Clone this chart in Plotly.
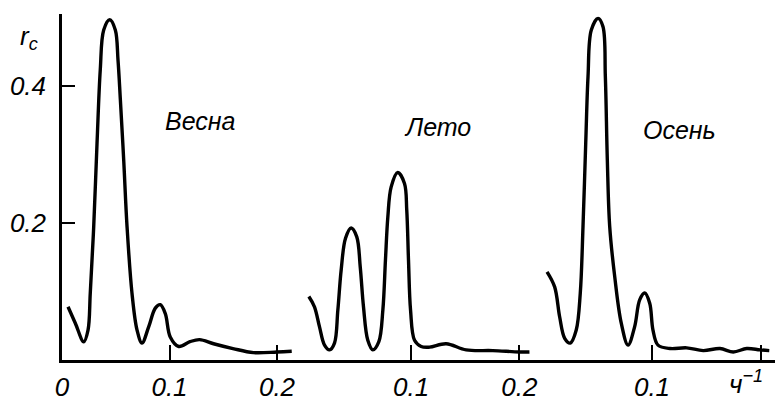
import plotly.graph_objects as go

# Spring (Весна)
spring_x = [0.0056, 0.0124, 0.0202, 0.0242, 0.0263, 0.0295, 0.0326, 0.0356, 0.0388, 0.0444, 0.0496,
            0.0521, 0.0543, 0.0574, 0.0605, 0.0651, 0.0698, 0.0744, 0.0807, 0.0868, 0.0914, 0.0961,
            0.1007, 0.1086, 0.119, 0.128, 0.141, 0.159, 0.178, 0.2, 0.2137]
spring_y = [0.077, 0.053, 0.026, 0.043, 0.097, 0.194, 0.316, 0.423, 0.481, 0.496, 0.481,
            0.437, 0.379, 0.291, 0.194, 0.097, 0.043, 0.024, 0.048, 0.075, 0.080, 0.067,
            0.033, 0.019, 0.026, 0.029, 0.023, 0.016, 0.010, 0.011, 0.012]

# Summer (Лето)
summer_x = [0.0054, 0.0106, 0.0152, 0.0199, 0.0245, 0.0291, 0.0322, 0.0353, 0.0393, 0.0445, 0.0497,
            0.0529, 0.0559, 0.0599, 0.0645, 0.0701, 0.0738, 0.0762, 0.0784, 0.0815, 0.0876, 0.0938,
            0.0959, 0.0975, 0.0994, 0.1031, 0.1092, 0.1169, 0.1323, 0.1508, 0.1754, 0.2, 0.2093]
summer_y = [0.092, 0.077, 0.048, 0.021, 0.014, 0.024, 0.072, 0.131, 0.177, 0.192, 0.179,
            0.135, 0.077, 0.028, 0.014, 0.026, 0.072, 0.145, 0.208, 0.252, 0.273, 0.257,
            0.218, 0.145, 0.072, 0.028, 0.019, 0.018, 0.023, 0.014, 0.013, 0.011, 0.011]

# Autumn (Осень)
autumn_x = [0.0037, 0.0107, 0.0153, 0.0199, 0.0250, 0.0305, 0.0342, 0.0367, 0.0392, 0.0413, 0.0443,
            0.0505, 0.0550, 0.0572, 0.0590, 0.0612, 0.0658, 0.0718, 0.0780, 0.0841, 0.0887, 0.0933,
            0.0979, 0.1009, 0.1055, 0.1165, 0.1318, 0.147, 0.1624, 0.1746, 0.1869, 0.1991, 0.2076]
autumn_y = [0.128, 0.106, 0.062, 0.031, 0.024, 0.043, 0.097, 0.194, 0.316, 0.413, 0.481,
            0.498, 0.486, 0.413, 0.292, 0.194, 0.121, 0.053, 0.021, 0.048, 0.087, 0.097,
            0.082, 0.043, 0.021, 0.016, 0.017, 0.013, 0.016, 0.011, 0.016, 0.014, 0.013]

season_names = ["Весна", "Лето", "Осень"]
y_ticks = [0.2, 0.4]
y_ticklabels = ["0.2", "0.4"]
x_ticks = [0, 0.1, 0.2]
x_ticklabels_1 = ["0", "0.1", "0.2"]
x_ticklabels_2 = ["", "0.1", "0.2"]
x_ticklabels_3 = ["", "0.1", ""]
unit_label = "ч<sup>−1</sup>"
y_label = "r<sub>c</sub>"

W, H = 775, 401
FONT = "Liberation Sans, Arial, sans-serif"
tfont = dict(family=FONT, size=26, color="black", style="italic")
afont = dict(family=FONT, size=25, color="black", style="italic")

fig = go.Figure()
line = dict(color="black", width=3.4, shape="spline", smoothing=1.0)
fig.add_trace(go.Scatter(x=spring_x, y=spring_y, mode="lines", line=line, xaxis="x", yaxis="y", showlegend=False))
fig.add_trace(go.Scatter(x=summer_x, y=summer_y, mode="lines", line=line, xaxis="x2", yaxis="y", showlegend=False))
fig.add_trace(go.Scatter(x=autumn_x, y=autumn_y, mode="lines", line=line, xaxis="x3", yaxis="y", showlegend=False))

y0_px, ytop_px = 359.5, 14
yscale = 685.0

def xax(d0, d1, scale, tt):
    return dict(domain=[d0 / W, d1 / W], range=[0, (d1 - d0) / scale], anchor="y",
                showgrid=False, zeroline=False, showline=True, linecolor="black", linewidth=2.5,
                ticks="inside", ticklen=15, tickwidth=2, tickcolor="black",
                tickmode="array", tickvals=x_ticks, ticktext=tt, tickfont=tfont,
                ticklabelstandoff=3, ticklabeloverflow="allow", automargin=False, fixedrange=True)

fig.update_layout(
    width=W, height=H,
    margin=dict(l=0, r=0, t=0, b=0),
    paper_bgcolor="white", plot_bgcolor="white",
    xaxis=xax(62, 303, 1075.0, x_ticklabels_1),
    xaxis2=xax(303, 543, 1082.0, x_ticklabels_2),
    xaxis3=xax(543, 775, 1090.0, x_ticklabels_3),
    yaxis=dict(domain=[(H - y0_px) / H, (H - ytop_px) / H], range=[0, (y0_px - ytop_px) / yscale],
               anchor="x", showgrid=False, zeroline=False, showline=True, linecolor="black",
               linewidth=2.5, ticks="inside", ticklen=13, tickwidth=2, tickcolor="black",
               tickmode="array", tickvals=y_ticks, ticktext=y_ticklabels, tickfont=tfont,
               ticklabelstandoff=8, automargin=False, fixedrange=True),
)

label_pos = [(200, 121), (437, 127), (679, 130)]
for name, (px, py) in zip(season_names, label_pos):
    fig.add_annotation(text=name, x=px / W, y=1 - py / H, xref="paper", yref="paper",
                       xanchor="center", yanchor="middle", showarrow=False, font=afont)

fig.add_annotation(text=unit_label, x=746 / W, y=1 - 382 / H, xref="paper", yref="paper",
                   xanchor="center", yanchor="middle", showarrow=False, font=tfont, borderpad=0)
fig.add_annotation(text=y_label, x=29 / W, y=1 - 37 / H, xref="paper", yref="paper",
                   xanchor="center", yanchor="middle", showarrow=False, font=tfont)

fig.write_html("out.html")
